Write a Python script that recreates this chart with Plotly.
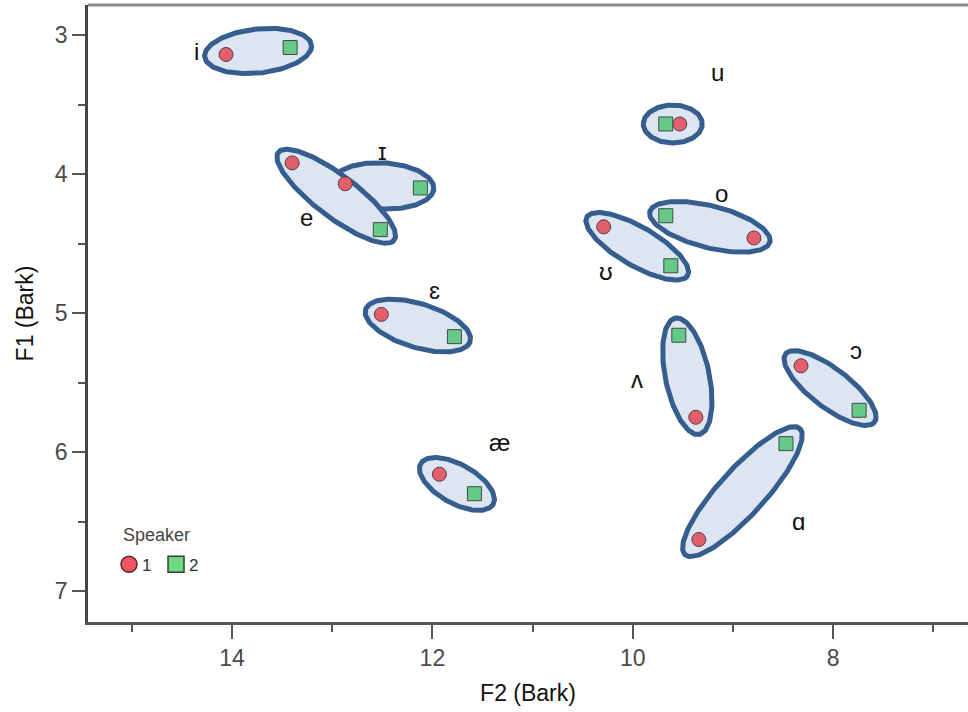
import numpy as np
import plotly.graph_objects as go

# ---------------- data ----------------
VOWELS = ['i', 'ɪ', 'e', 'ɛ', 'æ', 'u', 'ʊ', 'o', 'ʌ', 'ɔ', 'ɑ']
S1_F2 = [14.06, 12.87, 13.40, 12.51, 11.93, 9.53, 10.29, 8.79, 9.37, 8.32, 9.34]
S1_F1 = [3.14, 4.07, 3.92, 5.01, 6.16, 3.64, 4.38, 4.46, 5.75, 5.38, 6.63]
S2_F2 = [13.42, 12.12, 12.52, 11.78, 11.58, 9.67, 9.62, 9.67, 9.54, 7.74, 8.47]
S2_F1 = [3.09, 4.10, 4.40, 5.17, 6.30, 3.64, 4.66, 4.30, 5.16, 5.70, 5.94]
LABEL_F2 = [14.35, 12.50, 13.26, 11.98, 11.33, 9.15, 10.27, 9.11, 9.96, 7.77, 8.35]
LABEL_F1 = [3.12, 3.84, 4.31, 4.84, 5.93, 3.27, 4.70, 4.14, 5.48, 5.27, 6.50]
SPEAKERS = ['1', '2']
X_TICKS = [8, 10, 12, 14]
Y_TICKS = [3, 4, 5, 6, 7]

# ---------------- styling ----------------
W, H = 968, 712
M_L, M_R, M_T, M_B = 88, 0, 5, 90
X_RANGE = [15.438, 6.653]
Y_RANGE = [7.223, 2.784]
# ellipse padding beyond points and half-width (outer edge, px)
ELL_PAD = [24, 16, 20, 19, 24, 25, 22, 19, 20, 22, 23]
ELL_HALF = [24.5, 25.5, 23.5, 24.5, 22, 21.5, 22, 23.5, 24.5, 22, 25.5]
ELL_LINE_W = 5
ELL_LINE = '#355E8E'
ELL_FILL = '#DCE5F1'
FONT = 'Liberation Sans, Arial, sans-serif'

plot_w = W - M_L - M_R
plot_h = H - M_T - M_B
sx = plot_w / (X_RANGE[0] - X_RANGE[1])   # px per Bark (F2)
sy = plot_h / (Y_RANGE[0] - Y_RANGE[1])   # px per Bark (F1)

fig = go.Figure()

# ellipses around each speaker pair
for k, v in enumerate(VOWELS):
    x1, y1 = -S1_F2[k] * sx, S1_F1[k] * sy
    x2, y2 = -S2_F2[k] * sx, S2_F1[k] * sy
    cx, cy = (x1 + x2) / 2, (y1 + y2) / 2
    d = np.hypot(x2 - x1, y2 - y1)
    ang = np.arctan2(y2 - y1, x2 - x1)
    a = d / 2 + ELL_PAD[k] - ELL_LINE_W / 2
    b = ELL_HALF[k] - ELL_LINE_W / 2
    t = np.linspace(0, 2 * np.pi + 0.15, 190)
    ex = cx + a * np.cos(t) * np.cos(ang) - b * np.sin(t) * np.sin(ang)
    ey = cy + a * np.cos(t) * np.sin(ang) + b * np.sin(t) * np.cos(ang)
    fig.add_trace(go.Scatter(
        x=-ex / sx, y=ey / sy, mode='lines', fill='toself',
        fillcolor=ELL_FILL, line=dict(color=ELL_LINE, width=ELL_LINE_W),
        hoverinfo='skip', showlegend=False))

S1_STYLE = dict(symbol='circle', size=14, color='#E2606E',
                line=dict(color='#5a3a3e', width=1))
S2_STYLE = dict(symbol='square', size=14, color='#66C98A',
                line=dict(color='#3b4f42', width=1))
fig.add_trace(go.Scatter(x=S1_F2, y=S1_F1, mode='markers', name=SPEAKERS[0],
                         marker=S1_STYLE, showlegend=False))
fig.add_trace(go.Scatter(x=S2_F2, y=S2_F1, mode='markers', name=SPEAKERS[1],
                         marker=S2_STYLE, showlegend=False))

for k, v in enumerate(VOWELS):
    fig.add_annotation(x=LABEL_F2[k], y=LABEL_F1[k], text=v, showarrow=False,
                       font=dict(size=24, color='#111111', family=FONT))

# ---- legend (drawn on an overlay axis spanning the plot area, 0..1) ----
LEG_X = [0.0466, 0.1]
LEG_Y = 0.0935
fig.add_trace(go.Scatter(x=[LEG_X[0]], y=[LEG_Y], xaxis='x2', yaxis='y2',
                         mode='markers', hoverinfo='skip', showlegend=False,
                         marker=dict(S1_STYLE, size=16, color='#EE5562',
                                     line=dict(color='#5a2a2e', width=1.5))))
fig.add_trace(go.Scatter(x=[LEG_X[1]], y=[LEG_Y], xaxis='x2', yaxis='y2',
                         mode='markers', hoverinfo='skip', showlegend=False,
                         marker=dict(S2_STYLE, size=16, color='#70D882',
                                     line=dict(color='#2f3f33', width=1.5))))
fig.add_annotation(xref='x2', yref='y2', x=0.0375, y=0.141, text='Speaker',
                   showarrow=False, xanchor='left', yanchor='middle',
                   font=dict(size=18, color='#444444', family=FONT))
for lx, s in zip(LEG_X, SPEAKERS):
    fig.add_annotation(xref='x2', yref='y2', x=lx + 0.0125, y=LEG_Y - 0.002,
                       text=s, showarrow=False, xanchor='left',
                       yanchor='middle',
                       font=dict(size=17, color='#333333', family=FONT))

# top frame line
fig.add_shape(type='line', xref='paper', yref='paper', x0=0, x1=1, y0=1, y1=1,
              line=dict(color='#8a8a8a', width=3))

fig.update_layout(
    width=W, height=H,
    margin=dict(l=M_L, r=M_R, t=M_T, b=M_B, pad=0),
    paper_bgcolor='white', plot_bgcolor='white',
    font=dict(family=FONT),
    showlegend=False,
    xaxis=dict(range=X_RANGE, tickvals=X_TICKS, ticks='outside', ticklen=14,
               tickwidth=2, tickcolor='#555555', showgrid=False, zeroline=False,
               showline=True, linecolor='#555555', linewidth=2.5,
               automargin=False,
               tickfont=dict(size=23, color='#4a4a4a'),
               minor=dict(dtick=1, tick0=0, ticks='outside', ticklen=7,
                          tickwidth=2, tickcolor='#555555', showgrid=False),
               title=dict(text='F2 (Bark)', font=dict(size=23, color='#111111'))),
    yaxis=dict(range=Y_RANGE, tickvals=Y_TICKS, ticks='outside', ticklen=13,
               tickwidth=2, tickcolor='#555555', showgrid=False, zeroline=False,
               showline=True, linecolor='#444444', linewidth=2.5,
               automargin=False,
               tickfont=dict(size=23, color='#4a4a4a'),
               minor=dict(dtick=0.5, tick0=0, ticks='outside', ticklen=7,
                          tickwidth=2, tickcolor='#555555', showgrid=False),
               title=dict(text='F1 (Bark)', font=dict(size=23, color='#111111'))),
    xaxis2=dict(overlaying='x', range=[0, 1], visible=False, fixedrange=True),
    yaxis2=dict(overlaying='y', range=[0, 1], visible=False, fixedrange=True),
)

fig.write_html('out.html',
               config={'displayModeBar': False},
               post_script="document.body.style.margin='0px';"
                           "document.body.style.overflow='hidden';")
